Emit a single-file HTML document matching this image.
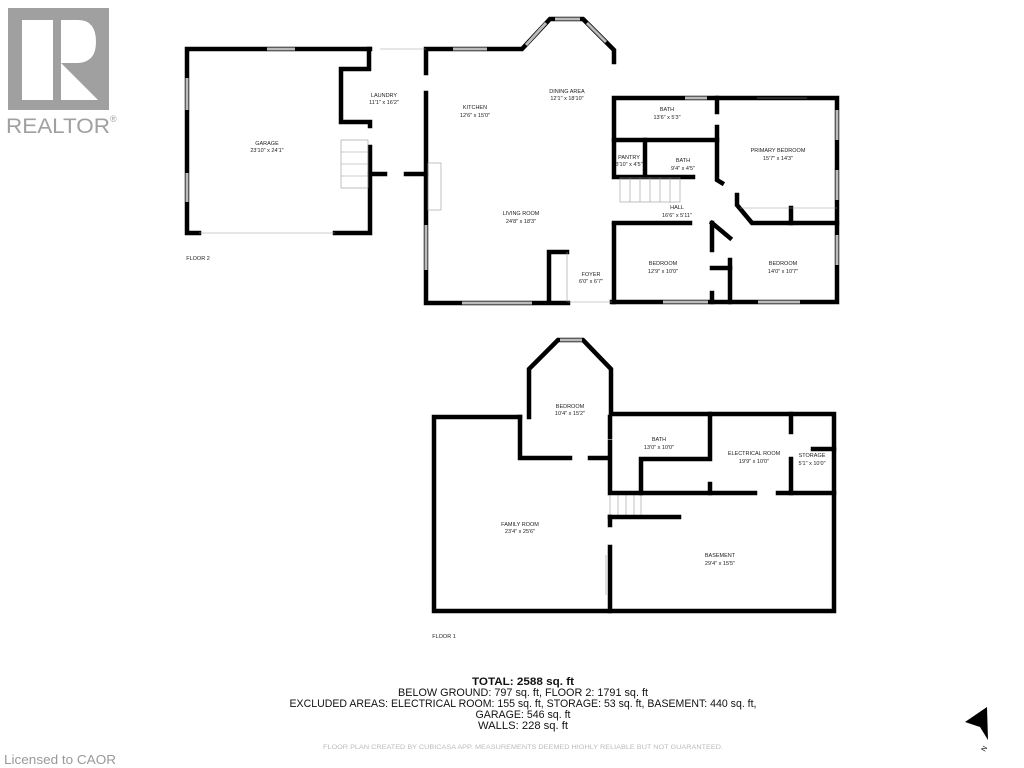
<!DOCTYPE html>
<html><head><meta charset="utf-8"><style>
body{margin:0;background:#fff;width:1024px;height:768px;overflow:hidden;font-family:"Liberation Sans",sans-serif}
svg{position:absolute;left:0;top:0}
.w{fill:none;stroke:#000;stroke-width:4.5;stroke-linecap:square}
.t{font-family:"Liberation Sans",sans-serif;font-size:5.5px;fill:#222;text-anchor:middle}
.b{font-family:"Liberation Sans",sans-serif;font-size:11px;fill:#111;text-anchor:middle}
</style></head><body>
<svg width="1024" height="768" viewBox="0 0 1024 768">
<!-- logo -->
<rect x="8" y="8" width="101" height="102" fill="#a0a0a0"/>
<rect x="22" y="20" width="31" height="80" fill="#fff"/>
<path d="M61 20 H78 Q96 20 96 42 Q96 62 78 63 H61 Z" fill="#fff"/>
<path d="M61 63 L98 100 H61 Z" fill="#fff"/>
<text x="6" y="133" font-family="Liberation Sans" font-size="21" fill="#a0a0a0" textLength="104" lengthAdjust="spacingAndGlyphs">REALTOR</text>
<text x="110" y="122" font-family="Liberation Sans" font-size="9" fill="#a0a0a0">®</text>

<!-- FLOOR 2 walls -->
<g class="w">
<polyline points="370,49 187,49 187,233 199,233"/>
<polyline points="335,233 370,233 370,147"/>
<polyline points="370,126 370,122 341,122 341,69 369,69 369,49"/>
<polyline points="370,174 385,174"/>
<polyline points="406,174 426,174"/>
<polyline points="426,73 426,49 522,49 550,19 583,19 610,46 614,50 614,62"/>
<polyline points="426,93 426,303 568,303"/>
<polyline points="612,302 837,302 837,98 614,98 614,177 693,177"/>
<polyline points="614,140 717,140"/>
<polyline points="645,140 645,175"/>
<polyline points="717,98 717,112"/>
<polyline points="717,127 717,180 722,183"/>
<polyline points="737,195 737,205 752,223 837,223"/>
<polyline points="791,208 791,223"/>
<polyline points="614,223 690,223"/>
<polyline points="614,225 614,302"/>
<polyline points="712,223 712,250"/>
<polyline points="712,223 730,238"/>
<polyline points="730,260 730,302"/>
<polyline points="712,268 730,268"/>
<polyline points="712,293 712,302"/>
<polyline points="549,302 549,252 567,252"/>
</g>
<g stroke="#bbb" stroke-width="3">
<line x1="267" y1="49" x2="295" y2="49"/>
<line x1="187" y1="78" x2="187" y2="110"/><line x1="187" y1="173" x2="187" y2="202"/>
<line x1="453" y1="49" x2="487" y2="49"/><line x1="555" y1="19" x2="580" y2="19"/>
<line x1="426" y1="225" x2="426" y2="270"/>
<line x1="462" y1="303" x2="532" y2="303"/><line x1="663" y1="302" x2="708" y2="302"/><line x1="758" y1="302" x2="800" y2="302"/>
<line x1="685" y1="98" x2="707" y2="98"/><line x1="837" y1="110" x2="837" y2="140"/><line x1="837" y1="170" x2="837" y2="200"/><line x1="837" y1="235" x2="837" y2="265"/>
<line x1="526" y1="45" x2="546" y2="23"/><line x1="587" y1="23" x2="606" y2="42"/>
</g>
<g stroke="#999" stroke-width="0.6" fill="none">
<line x1="380" y1="49" x2="426" y2="49"/><line x1="199" y1="233" x2="335" y2="233"/>
<line x1="740" y1="208" x2="837" y2="208"/><line x1="757" y1="98" x2="807" y2="98"/>
<line x1="567" y1="252" x2="567" y2="302"/><line x1="568" y1="302" x2="612" y2="302"/>
<rect x="428" y="163" width="13" height="47"/>
<rect x="341" y="140" width="27" height="48"/>
<line x1="341" y1="152" x2="368" y2="152"/><line x1="341" y1="164" x2="368" y2="164"/><line x1="341" y1="176" x2="368" y2="176"/>
<rect x="620" y="178" width="60" height="24"/>
<line x1="630" y1="178" x2="630" y2="202"/><line x1="640" y1="178" x2="640" y2="202"/><line x1="650" y1="178" x2="650" y2="202"/><line x1="660" y1="178" x2="660" y2="202"/><line x1="670" y1="178" x2="670" y2="202"/>
<rect x="610" y="493" width="31" height="24"/>
<line x1="618" y1="493" x2="618" y2="517"/><line x1="626" y1="493" x2="626" y2="517"/><line x1="634" y1="493" x2="634" y2="517"/>
<line x1="606" y1="555" x2="606" y2="595"/>
</g>

<!-- FLOOR 1 walls -->
<g class="w">
<polyline points="520,417 434,417 434,611 834,611 834,414 611,414 611,369 583,340 558,340 529,369 529,417"/>
<polyline points="520,417 520,458 570,458"/>
<polyline points="590,458 609,458"/>
<polyline points="610,417 610,437"/>
<polyline points="610,442 610,493 755,493"/>
<polyline points="778,493 834,493"/>
<polyline points="610,517 679,517"/>
<polyline points="610,517 610,525"/>
<polyline points="610,547 610,611"/>
<polyline points="710,414 710,459 641,459 641,493"/>
<polyline points="710,484 710,493"/>
<polyline points="791,414 791,432"/>
<polyline points="791,459 791,493"/>
<polyline points="813,449 834,449"/>
</g>
<line x1="560" y1="340" x2="582" y2="340" stroke="#bbb" stroke-width="3"/>

<!-- labels -->
<g class="t">
<text x="267" y="145">GARAGE</text><text x="267" y="152">23'10" x 24'1"</text>
<text x="384" y="97">LAUNDRY</text><text x="384" y="104">11'1" x 16'2"</text>
<text x="475" y="109">KITCHEN</text><text x="475" y="117">12'6" x 15'0"</text>
<text x="567" y="93">DINING AREA</text><text x="567" y="100">12'1" x 18'10"</text>
<text x="667" y="111">BATH</text><text x="667" y="119">13'6" x 5'3"</text>
<text x="629" y="159">PANTRY</text><text x="629" y="166">3'10" x 4'5"</text>
<text x="683" y="162">BATH</text><text x="683" y="170">9'4" x 4'5"</text>
<text x="778" y="152">PRIMARY BEDROOM</text><text x="778" y="160">15'7" x 14'3"</text>
<text x="677" y="209">HALL</text><text x="677" y="217">16'6" x 5'11"</text>
<text x="521" y="215">LIVING ROOM</text><text x="521" y="223">24'8" x 18'3"</text>
<text x="663" y="265">BEDROOM</text><text x="663" y="273">12'9" x 10'0"</text>
<text x="783" y="265">BEDROOM</text><text x="783" y="273">14'0" x 10'7"</text>
<text x="591" y="276">FOYER</text><text x="591" y="283">6'0" x 6'7"</text>
<text x="198" y="260">FLOOR 2</text>
<text x="570" y="408">BEDROOM</text><text x="570" y="415">10'4" x 15'2"</text>
<text x="659" y="441">BATH</text><text x="659" y="449">13'0" x 10'0"</text>
<text x="754" y="455">ELECTRICAL ROOM</text><text x="754" y="463">19'9" x 10'0"</text>
<text x="812" y="457">STORAGE</text><text x="812" y="465">5'1" x 10'0"</text>
<text x="520" y="526">FAMILY ROOM</text><text x="520" y="533">23'4" x 25'6"</text>
<text x="720" y="557">BASEMENT</text><text x="720" y="565">29'4" x 15'5"</text>
<text x="444" y="638">FLOOR 1</text>
</g>

<text class="b" x="523" y="685" font-weight="bold" textLength="102" lengthAdjust="spacingAndGlyphs">TOTAL: 2588 sq. ft</text>
<text class="b" x="523" y="696" textLength="250" lengthAdjust="spacingAndGlyphs">BELOW GROUND: 797 sq. ft, FLOOR 2: 1791 sq. ft</text>
<text class="b" x="523" y="707" textLength="467" lengthAdjust="spacingAndGlyphs">EXCLUDED AREAS: ELECTRICAL ROOM: 155 sq. ft, STORAGE: 53 sq. ft, BASEMENT: 440 sq. ft,</text>
<text class="b" x="523" y="718" textLength="95" lengthAdjust="spacingAndGlyphs">GARAGE: 546 sq. ft</text>
<text class="b" x="523" y="729" textLength="90" lengthAdjust="spacingAndGlyphs">WALLS: 228 sq. ft</text>
<text x="523" y="749" font-family="Liberation Sans" font-size="6.5" fill="#bbb" text-anchor="middle" textLength="400" lengthAdjust="spacingAndGlyphs">FLOOR PLAN CREATED BY CUBICASA APP. MEASUREMENTS DEEMED HIGHLY RELIABLE BUT NOT GUARANTEED.</text>
<text x="4" y="764" font-family="Liberation Sans" font-size="13" fill="#999" textLength="112" lengthAdjust="spacingAndGlyphs">Licensed to CAOR</text>
<path d="M987 707 L988 740 L980 727 L965 722 Z" fill="#000"/>
<text x="985" y="752" font-family="Liberation Sans" font-size="7" fill="#000" transform="rotate(-60 985 752)">N</text>
</svg>
</body></html>
